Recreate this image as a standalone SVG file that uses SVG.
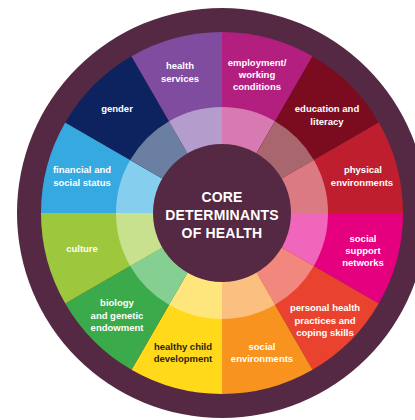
<svg xmlns="http://www.w3.org/2000/svg" width="415" height="420" viewBox="0 0 415 420">
<style>
.lbl{font-family:"Liberation Sans",Arial,sans-serif;font-weight:bold;font-size:9.5px;fill:#ffffff;text-anchor:middle}
.dark{fill:#2b2415}
.core{font-family:"Liberation Sans",Arial,sans-serif;font-weight:bold;font-size:14px;fill:#ffffff;text-anchor:middle;letter-spacing:0.2px}
</style>
<rect width="415" height="420" fill="#ffffff"/>
<circle id="outer-ring" cx="222" cy="213" r="205" fill="#552843"/>

<g id="employment">
<path d="M222,213 L222,32 A181,181 0 0 1 312.5,56.25 Z" fill="#B21F7F"/>
<path d="M222,213 L222,107 A106,106 0 0 1 275,121.2 Z" fill="#D77AB2"/>
<text class="lbl" x="257" y="66">employment/</text>
<text class="lbl" x="257" y="78">working</text>
<text class="lbl" x="257" y="89.5">conditions</text>
</g>

<g id="education">
<path d="M222,213 L312.5,56.25 A181,181 0 0 1 378.75,122.5 Z" fill="#7B0B1F"/>
<path d="M222,213 L275,121.2 A106,106 0 0 1 313.8,160 Z" fill="#A8666F"/>
<text class="lbl" x="327" y="112">education and</text>
<text class="lbl" x="327" y="125">literacy</text>
</g>

<g id="physical">
<path d="M222,213 L378.75,122.5 A181,181 0 0 1 403,213 Z" fill="#BF1E2E"/>
<path d="M222,213 L313.8,160 A106,106 0 0 1 328,213 Z" fill="#DB7A82"/>
<text class="lbl" x="363" y="173">physical</text>
<text class="lbl" x="362" y="186">environments</text>
</g>

<g id="social-support">
<path d="M222,213 L403,213 A181,181 0 0 1 378.75,303.5 Z" fill="#E5007F"/>
<path d="M222,213 L328,213 A106,106 0 0 1 313.8,266 Z" fill="#F066BA"/>
<text class="lbl" x="363" y="242">social</text>
<text class="lbl" x="363" y="254">support</text>
<text class="lbl" x="363" y="266">networks</text>
</g>

<g id="personal-health">
<path d="M222,213 L378.75,303.5 A181,181 0 0 1 312.5,369.75 Z" fill="#E9432F"/>
<path d="M222,213 L313.8,266 A106,106 0 0 1 275,304.8 Z" fill="#F2887D"/>
<text class="lbl" x="325" y="311">personal health</text>
<text class="lbl" x="325" y="323.5">practices and</text>
<text class="lbl" x="325" y="336">coping skills</text>
</g>

<g id="social-environments">
<path d="M222,213 L312.5,369.75 A181,181 0 0 1 222,394 Z" fill="#F7931E"/>
<path d="M222,213 L275,304.8 A106,106 0 0 1 222,319 Z" fill="#FBBF80"/>
<text class="lbl" x="262" y="350">social</text>
<text class="lbl" x="262" y="361.5">environments</text>
</g>

<g id="healthy-child">
<path d="M222,213 L222,394 A181,181 0 0 1 131.5,369.75 Z" fill="#FFD91A"/>
<path d="M222,213 L222,319 A106,106 0 0 1 169,304.8 Z" fill="#FFE67C"/>
<text class="lbl dark" x="183" y="350">healthy child</text>
<text class="lbl dark" x="183" y="361.5">development</text>
</g>

<g id="biology">
<path d="M222,213 L131.5,369.75 A181,181 0 0 1 65.25,303.5 Z" fill="#3BAA4A"/>
<path d="M222,213 L169,304.8 A106,106 0 0 1 130.2,266 Z" fill="#86CF92"/>
<text class="lbl" x="117" y="306">biology</text>
<text class="lbl" x="117" y="319">and genetic</text>
<text class="lbl" x="117" y="331">endowment</text>
</g>

<g id="culture">
<path d="M222,213 L65.25,303.5 A181,181 0 0 1 41,213 Z" fill="#9DC73C"/>
<path d="M222,213 L130.2,266 A106,106 0 0 1 116,213 Z" fill="#C7E18F"/>
<text class="lbl" x="82" y="252">culture</text>
</g>

<g id="financial">
<path d="M222,213 L41,213 A181,181 0 0 1 65.25,122.5 Z" fill="#36A9E0"/>
<path d="M222,213 L116,213 A106,106 0 0 1 130.2,160 Z" fill="#86CEEE"/>
<text class="lbl" x="82" y="173">financial and</text>
<text class="lbl" x="82" y="186">social status</text>
</g>

<g id="gender">
<path d="M222,213 L65.25,122.5 A181,181 0 0 1 131.5,56.25 Z" fill="#0D2360"/>
<path d="M222,213 L130.2,160 A106,106 0 0 1 169,121.2 Z" fill="#6A7FA1"/>
<text class="lbl" x="117" y="112">gender</text>
</g>

<g id="health-services">
<path d="M222,213 L131.5,56.25 A181,181 0 0 1 222,32 Z" fill="#7F4C9F"/>
<path d="M222,213 L169,121.2 A106,106 0 0 1 222,107 Z" fill="#B49CCC"/>
<text class="lbl" x="180" y="69">health</text>
<text class="lbl" x="180" y="82">services</text>
</g>

<g id="core">
<circle cx="222" cy="213" r="69" fill="#552843"/>
<text class="core" x="222" y="202">CORE</text>
<text class="core" x="222" y="220">DETERMINANTS</text>
<text class="core" x="222" y="238">OF HEALTH</text>
</g>
</svg>
